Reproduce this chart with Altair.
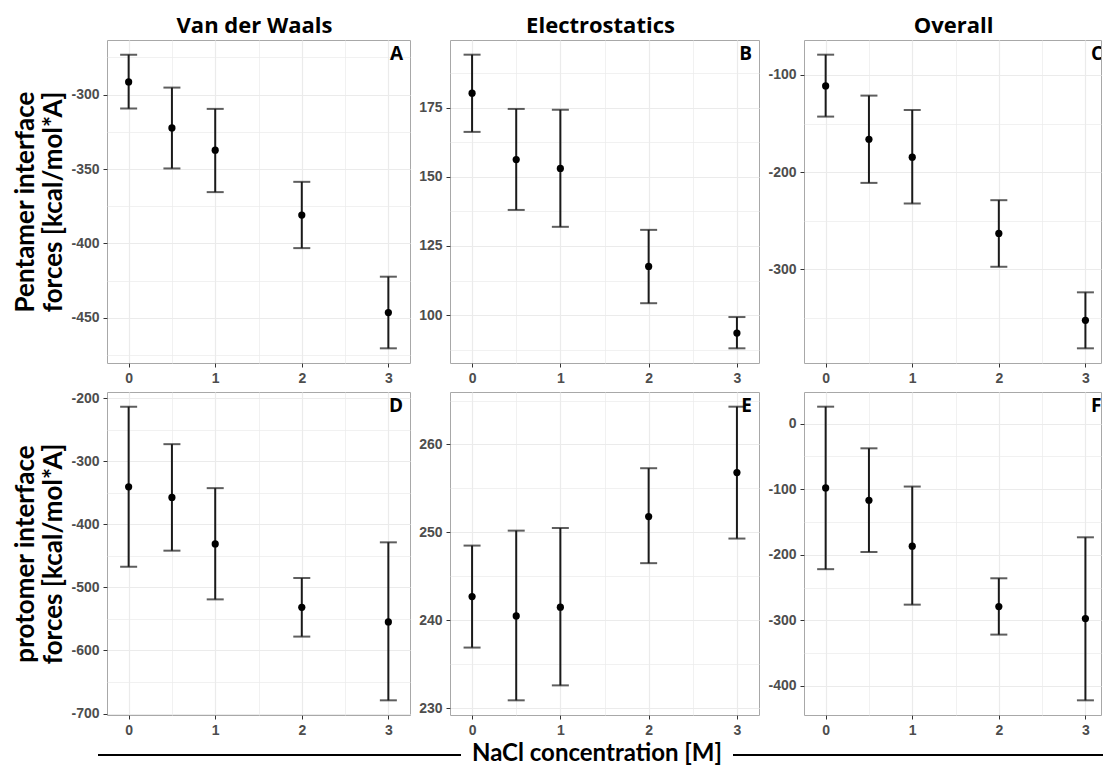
import altair as alt
import pandas as pd

# NaCl concentration [M]
conc = [0, 0.5, 1, 2, 3]

# Pentamer interface: van der Waals
vdw_pent_mean = [-291.5, -322.4, -337.3, -380.9, -446.4]
vdw_pent_lo = [-309.4, -349.6, -365.5, -403.1, -470.4]
vdw_pent_hi = [-273.2, -295.3, -309.6, -358.6, -422.3]

# Pentamer interface: electrostatics
elec_pent_mean = [180.2, 156.2, 153.0, 117.6, 93.5]
elec_pent_lo = [166.2, 138.0, 131.9, 104.3, 88.0]
elec_pent_hi = [194.1, 174.5, 174.2, 130.8, 99.3]

# Pentamer interface: overall
all_pent_mean = [-111.3, -166.1, -184.6, -263.0, -352.4]
all_pent_lo = [-142.8, -211.0, -232.2, -297.3, -381.2]
all_pent_hi = [-79.1, -121.2, -136.0, -228.8, -323.6]

# Protomer interface: van der Waals
vdw_prot_mean = [-340.7, -357.5, -431.3, -531.7, -554.9]
vdw_prot_lo = [-467.4, -441.9, -519.1, -578.1, -679.1]
vdw_prot_hi = [-213.7, -273.1, -342.8, -485.2, -428.7]

# Protomer interface: electrostatics
elec_prot_mean = [242.7, 240.5, 241.5, 251.8, 256.8]
elec_prot_lo = [236.9, 230.9, 232.6, 246.5, 249.3]
elec_prot_hi = [248.5, 250.2, 250.5, 257.3, 264.3]

# Protomer interface: overall
all_prot_mean = [-98.0, -116.8, -186.8, -279.0, -297.3]
all_prot_lo = [-221.9, -195.7, -276.0, -321.7, -421.9]
all_prot_hi = [25.9, -37.6, -95.9, -235.8, -173.3]

col_titles = ["Van der Waals", "Electrostatics", "Overall"]
row_titles = [["Pentamer interface", "forces [kcal/mol*A]"],
              ["protomer interface", "forces [kcal/mol*A]"]]
x_title = "NaCl concentration [M]"

TITLE_FONT = "Open Sans"
CAPTION_FONT = "Lato"
LABEL_FONT = "Liberation Sans"
INK = "#1a1a1a"
PANEL_H = 323


def panel(mean, lo, hi, major, letter, width, col_title=None, y_title=None,
          x_max=3.25, clip_letter=False, title_dx=-4):
    df = pd.DataFrame({"conc": conc, "mean": mean, "lo": lo, "hi": hi})

    # ggplot-style 5% expansion around the error bar extent
    dlo, dhi = min(lo), max(hi)
    pad = 0.05 * (dhi - dlo)
    ydom = [dlo - pad, dhi + pad]

    # major ticks with a minor grid line halfway between them
    minor = major / 2
    k0 = int((ydom[0] // minor)) + 1
    yvals = []
    v = k0 * minor
    while v <= ydom[1]:
        yvals.append(round(v, 6))
        v += minor
    is_major_y = f"abs(datum.value % {major}) < 1e-6"

    yaxis = alt.Axis(
        values=yvals,
        labelExpr=f"{is_major_y} ? '' + datum.value : ''",
        gridWidth={"condition": {"test": is_major_y, "value": 1.2}, "value": 0.7},
        tickOpacity={"condition": {"test": is_major_y, "value": 1}, "value": 0},
        title=y_title if y_title else None,
    )
    is_major_x = "datum.value % 1 === 0"
    xaxis = alt.Axis(
        values=[0, 0.5, 1, 1.5, 2, 2.5, 3],
        labelExpr=f"{is_major_x} ? '' + datum.value : ''",
        gridWidth={"condition": {"test": is_major_x, "value": 1.2}, "value": 0.7},
        tickOpacity={"condition": {"test": is_major_x, "value": 1}, "value": 0},
        title=None,
    )
    xenc = alt.X("conc:Q", scale=alt.Scale(domain=[-0.25, x_max], nice=False, zero=False),
                 axis=xaxis)

    def yenc(field):
        return alt.Y(f"{field}:Q", scale=alt.Scale(domain=ydom, nice=False, zero=False),
                     axis=yaxis)

    base = alt.Chart(df)
    bars = base.mark_rule(color=INK, strokeWidth=2).encode(x=xenc, y=yenc("lo"), y2="hi:Q")
    cap_lo = base.mark_tick(orient="horizontal", size=17, thickness=2, color=INK).encode(
        x=xenc, y=yenc("lo"))
    cap_hi = base.mark_tick(orient="horizontal", size=17, thickness=2, color=INK).encode(
        x=xenc, y=yenc("hi"))
    pts = base.mark_point(filled=True, size=52, color="black", opacity=1).encode(
        x=xenc, y=yenc("mean"))

    if clip_letter:
        tag_mark = alt.Chart(pd.DataFrame({"t": [letter]})).mark_text(
            font=TITLE_FONT, fontSize=19, fontWeight="bold", color="black",
            align="left", baseline="alphabetic", clip=True)
        tag = tag_mark.encode(text="t:N", x=alt.value(width - 10), y=alt.value(20))
    else:
        tag_mark = alt.Chart(pd.DataFrame({"t": [letter]})).mark_text(
            font=TITLE_FONT, fontSize=19, fontWeight="bold", color="black",
            align="right", baseline="alphabetic")
        tag = tag_mark.encode(text="t:N", x=alt.value(width - 7), y=alt.value(20))

    layer = alt.layer(bars, cap_lo, cap_hi, pts, tag).properties(width=width, height=PANEL_H)
    if col_title:
        layer = layer.properties(title=alt.TitleParams(
            col_title, font=TITLE_FONT, fontSize=22, fontWeight="bold", color="black",
            anchor="middle", frame="group", offset=2, dx=title_dx))
    return layer


row1 = alt.hconcat(
    panel(vdw_pent_mean, vdw_pent_lo, vdw_pent_hi, 50, "A", 303, col_titles[0], row_titles[0]),
    panel(elec_pent_mean, elec_pent_lo, elec_pent_hi, 25, "B", 309, col_titles[1]),
    panel(all_pent_mean, all_pent_lo, all_pent_hi, 100, "C", 297, col_titles[2],
          x_max=3.18, clip_letter=True, title_dx=1),
    spacing=7,
)
row2 = alt.hconcat(
    panel(vdw_prot_mean, vdw_prot_lo, vdw_prot_hi, 100, "D", 303, y_title=row_titles[1]),
    panel(elec_prot_mean, elec_prot_lo, elec_prot_hi, 10, "E", 309),
    panel(all_prot_mean, all_prot_lo, all_prot_hi, 100, "F", 297, x_max=3.18, clip_letter=True),
    spacing=7,
)

# shared x-axis caption with a rule on either side (origin = left edge of the first panel)
cap_df = pd.DataFrame({"t": [x_title]})
cap_text = alt.Chart(cap_df).mark_text(
    font=CAPTION_FONT, fontSize=24, fontWeight="bold", color="black",
    align="center", baseline="alphabetic").encode(
    text="t:N", x=alt.value(490), y=alt.value(15))
rule_left = alt.Chart(cap_df).mark_rule(color="black", strokeWidth=2).encode(
    x=alt.value(-9), x2=alt.value(354), y=alt.value(9))
rule_right = alt.Chart(cap_df).mark_rule(color="black", strokeWidth=2).encode(
    x=alt.value(626), x2=alt.value(996), y=alt.value(9))
caption = alt.layer(rule_left, rule_right, cap_text).properties(
    width=990, height=20, view=alt.ViewBackground(strokeOpacity=0))

chart = alt.vconcat(row1, row2, caption, spacing=4).properties(
    padding={"left": 12, "top": 14, "right": 0, "bottom": 0},
    background="white",
).configure_view(
    stroke="#A8A8A8", strokeWidth=1,
).configure_axis(
    labelFont=LABEL_FONT, labelFontSize=14, labelFontWeight="bold", labelColor="#4D4D4D",
    labelOverlap=False, labelFlush=False, labelPadding=4,
    tickColor="#333333", tickSize=4, tickWidth=1,
    domain=False, grid=True, gridColor="#EBEBEB",
    titleFont=CAPTION_FONT, titleFontSize=26, titleFontWeight="bold", titleColor="black",
    titleLineHeight=28, titlePadding=4,
)

chart.save("out.html", embed_options={"renderer": "svg", "actions": False})
